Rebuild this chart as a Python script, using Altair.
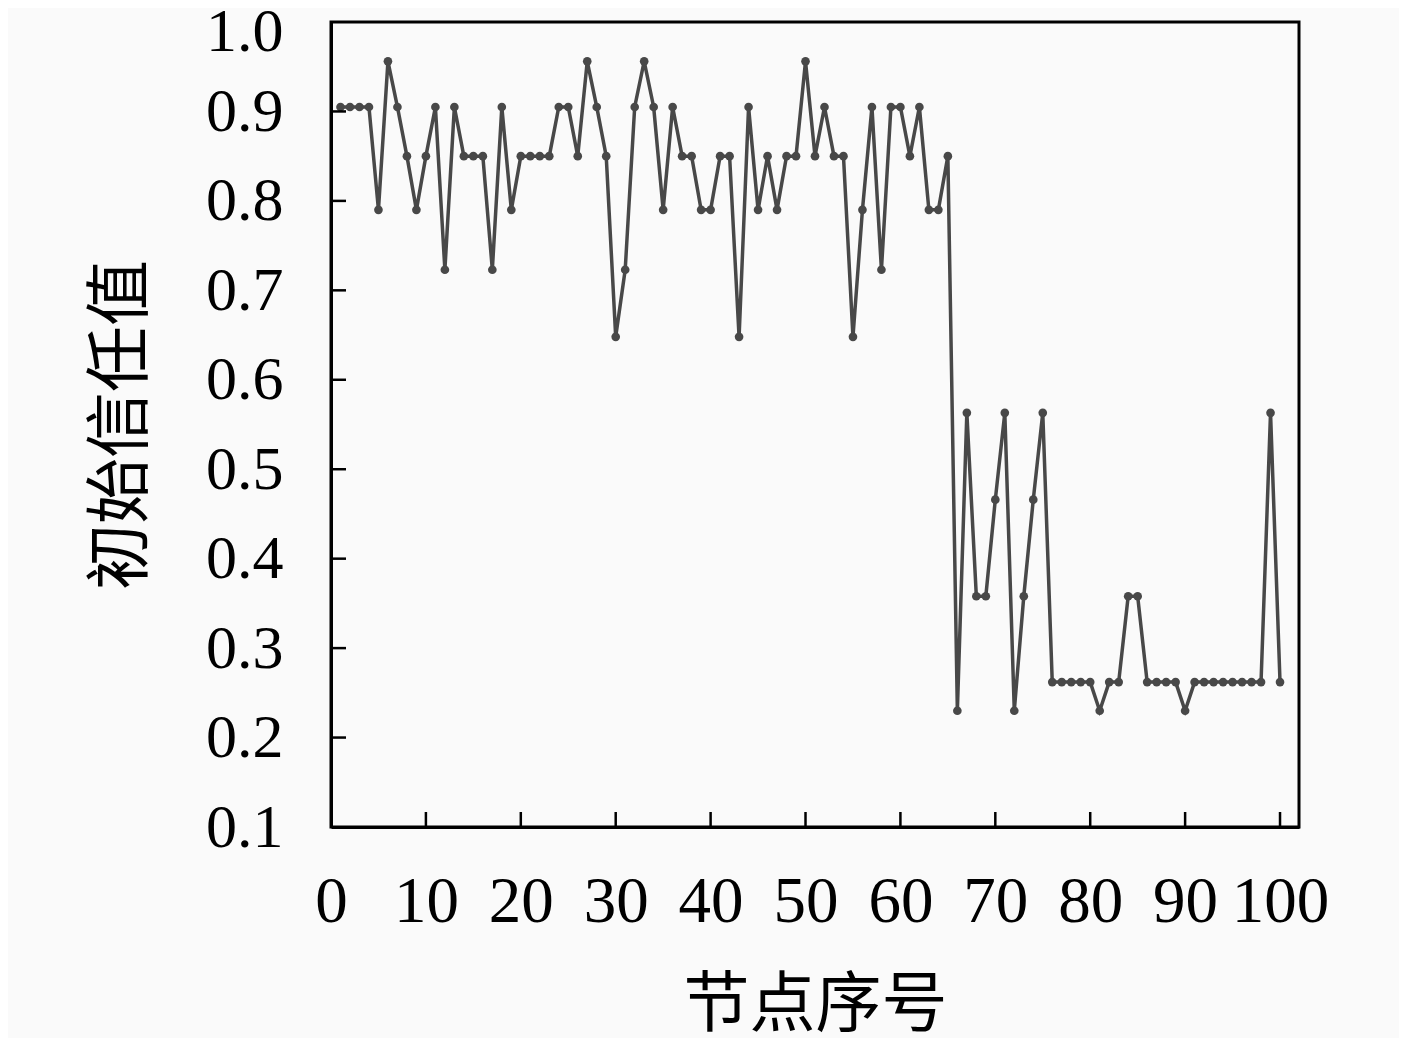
import altair as alt
import pandas as pd

nodes = list(range(1, 101))
trust = [
    0.905, 0.905, 0.905, 0.905, 0.79, 0.956, 0.905, 0.85, 0.79, 0.85,
    0.905, 0.723, 0.905, 0.85, 0.85, 0.85, 0.723, 0.905, 0.79, 0.85,
    0.85, 0.85, 0.85, 0.905, 0.905, 0.85, 0.956, 0.905, 0.85, 0.648,
    0.723, 0.905, 0.956, 0.905, 0.79, 0.905, 0.85, 0.85, 0.79, 0.79,
    0.85, 0.85, 0.648, 0.905, 0.79, 0.85, 0.79, 0.85, 0.85, 0.956,
    0.85, 0.905, 0.85, 0.85, 0.648, 0.79, 0.905, 0.723, 0.905, 0.905,
    0.85, 0.905, 0.79, 0.79, 0.85, 0.23, 0.563, 0.358, 0.358, 0.466,
    0.563, 0.23, 0.358, 0.466, 0.563, 0.262, 0.262, 0.262, 0.262, 0.262,
    0.23, 0.262, 0.262, 0.358, 0.358, 0.262, 0.262, 0.262, 0.262, 0.23,
    0.262, 0.262, 0.262, 0.262, 0.262, 0.262, 0.262, 0.262, 0.563, 0.262,
]
x_ticks = [0, 10, 20, 30, 40, 50, 60, 70, 80, 90, 100]
y_ticks = [0.1, 0.2, 0.3, 0.4, 0.5, 0.6, 0.7, 0.8, 0.9, 1.0]
x_inner_ticks = [10, 20, 30, 40, 50, 60, 70, 80, 90, 100]
y_inner_ticks = [0.2, 0.3, 0.4, 0.5, 0.6, 0.7, 0.8, 0.9]

W, H = 968, 805
LINE = "#484848"
NUM_FONT = "Liberation Serif"
CJK_FONT = "Noto Sans CJK SC"

df = pd.DataFrame({"node": nodes, "trust": trust})

xscale = alt.Scale(domain=[0, 102], nice=False, zero=False)
yscale = alt.Scale(domain=[0.1, 1.0], nice=False, zero=False)

xaxis = alt.Axis(
    values=x_ticks, format="d", title="节点序号", ticks=False, grid=False,
    labelFont=NUM_FONT, labelFontSize=65, labelColor="black", labelPadding=43,
    labelFlush=False, labelOverlap=False,
    titleFont=CJK_FONT, titleFontSize=66, titleFontWeight="normal",
    titleColor="black", titlePadding=39,
    domainColor="black", domainWidth=3,
)
yaxis = alt.Axis(
    values=y_ticks, format=".1f", title="初始信任值", ticks=False, grid=False,
    labelFont=NUM_FONT, labelFontSize=62, labelColor="black", labelPadding=48,
    labelFlush=False, labelOverlap=False,
    labelOffset=alt.condition("datum.value >= 0.99", alt.value(9), alt.value(0)),
    titleFont=CJK_FONT, titleFontSize=66, titleFontWeight="normal",
    titleColor="black", titlePadding=50,
    domainColor="black", domainWidth=3,
)

base = alt.Chart(df)
line = base.mark_line(color=LINE, strokeWidth=3.5).encode(
    x=alt.X("node:Q", scale=xscale, axis=xaxis),
    y=alt.Y("trust:Q", scale=yscale, axis=yaxis),
)
pts = base.mark_circle(color=LINE, size=75, opacity=1).encode(
    x=alt.X("node:Q", scale=xscale),
    y=alt.Y("trust:Q", scale=yscale),
)

xt = alt.Chart(pd.DataFrame({"t": x_inner_ticks})).mark_rule(
    color="black", strokeWidth=2.5
).encode(
    x=alt.X("t:Q", scale=xscale),
    y=alt.value(H),
    y2=alt.value(H - 15),
)
yt = alt.Chart(pd.DataFrame({"t": y_inner_ticks})).mark_rule(
    color="black", strokeWidth=2.5
).encode(
    y=alt.Y("t:Q", scale=yscale),
    x=alt.value(0),
    x2=alt.value(15),
)

chart = alt.layer(line, pts, xt, yt).properties(
    width=W, height=H,
    autosize=alt.AutoSizeParams(type="none"),
    padding={"left": 323, "top": 14, "right": 100, "bottom": 230},
    background="#fafafa",
).configure_view(stroke="black", strokeWidth=3)

chart.save("out.html", embed_options={"renderer": "svg", "actions": False})
